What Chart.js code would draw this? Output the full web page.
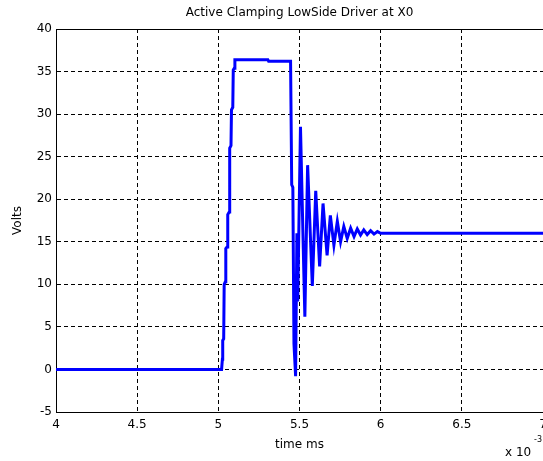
<!DOCTYPE html>
<html>
<head>
<meta charset="utf-8">
<script src="https://cdn.jsdelivr.net/npm/chart.js@4/dist/chart.umd.min.js"></script>
<style>
  html, body { margin: 0; padding: 0; background: #fff; }
  #wrap { width: 543px; height: 461px; overflow: hidden; position: relative; }
  canvas { display: block; }
</style>
</head>
<body>
<div id="wrap"><canvas id="clampChart" width="560" height="461"></canvas></div>
<script>
// Time axis in units of 1e-3 (matches the "x 10^-3" multiplier)
const timeE3 = [
    4.000, 5.020, 5.025, 5.027, 5.033, 5.036, 5.043, 5.046, 5.054, 5.058,
    5.067, 5.070, 5.078, 5.081, 5.089, 5.092, 5.098, 5.102, 5.305, 5.310,
    5.445, 5.452, 5.459, 5.466, 5.476, 5.484, 5.489, 5.506, 5.533, 5.550,
    5.579, 5.600, 5.624, 5.645, 5.670, 5.690, 5.712, 5.733, 5.753, 5.773,
    5.794, 5.815, 5.836, 5.856, 5.876, 5.896, 5.917, 5.938, 5.959, 5.980,
    6.000, 7.000
];
// Drain voltage at X0
const volts = [
    0, 0, 1.2, 3.4, 3.6, 10.0, 10.3, 14.2, 14.4, 18.2,
    18.5, 26.0, 26.3, 30.5, 30.8, 35.2, 35.4, 36.4, 36.4, 36.2,
    36.2, 21.7, 21.4, 3.0, -0.8, 16.0, 8.0, 28.5, 6.2, 24.0,
    9.8, 21.0, 12.1, 19.5, 13.4, 18.1, 14.6, 17.4, 15.0, 16.8,
    15.4, 16.6, 15.6, 16.5, 15.8, 16.4, 15.85, 16.3, 15.9, 16.2,
    16.0, 16.0
];

const xTickLabels = ['4', '4.5', '5', '5.5', '6', '6.5', '7'];
const yTickLabels = ['-5', '0', '5', '10', '15', '20', '25', '30', '35', '40'];
const chartTitle = 'Active Clamping LowSide Driver at X0';

const FONT = "'DejaVu Sans', sans-serif";
Chart.defaults.font.family = FONT;
Chart.defaults.font.size = 12;
Chart.defaults.color = '#000';

// Solid top edge of the plot box, title centred over the axes
const frame = {
    id: 'frame',
    beforeDatasetsDraw(chart) {
        const { ctx, chartArea: a } = chart;
        ctx.save();
        ctx.strokeStyle = '#000';
        ctx.lineWidth = 1;
        ctx.beginPath();
        ctx.moveTo(a.left, Math.round(a.top) + 0.5);
        ctx.lineTo(a.right, Math.round(a.top) + 0.5);
        ctx.stroke();

        ctx.fillStyle = '#000';
        ctx.font = '12px ' + FONT;
        ctx.textAlign = 'center';
        ctx.textBaseline = 'middle';
        ctx.fillText(chartTitle, (a.left + a.right) / 2, 13);
        ctx.restore();
    }
};

// "x 10^-3" multiplier under the right end of the time axis
const exponent = {
    id: 'exponent',
    afterDraw(chart) {
        const ctx = chart.ctx;
        ctx.save();
        ctx.fillStyle = '#000';
        ctx.textBaseline = 'middle';
        ctx.textAlign = 'left';
        ctx.font = '12px ' + FONT;
        ctx.fillText('x 10', 505, 453);
        ctx.font = '8px ' + FONT;
        ctx.fillText('-3', 534, 440);
        ctx.restore();
    }
};

const gridDash = [4, 3];

new Chart(document.getElementById('clampChart'), {
    type: 'line',
    data: {
        datasets: [{
            data: timeE3.map((t, i) => ({ x: t, y: volts[i] })),
            borderColor: '#0000ff',
            borderWidth: 3,
            pointRadius: 0,
            tension: 0,
            fill: false
        }]
    },
    options: {
        responsive: false,
        animation: false,
        layout: { padding: { left: 0, right: 17, top: 29, bottom: 0 } },
        plugins: {
            legend: { display: false },
            tooltip: { enabled: false },
            title: { display: false }
        },
        scales: {
            x: {
                type: 'linear',
                min: 4,
                max: 7,
                afterFit: s => { s.height = 49; },
                ticks: {
                    stepSize: 0.5,
                    padding: 6,
                    maxRotation: 0,
                    autoSkip: false,
                    callback: (v, i) => xTickLabels[i]
                },
                grid: { color: '#000', lineWidth: 1, drawTicks: false },
                border: { display: true, color: '#000', width: 1, dash: gridDash },
                title: { display: true, text: 'time ms', padding: { top: 0, bottom: 9 } }
            },
            y: {
                type: 'linear',
                min: -5,
                max: 40,
                afterFit: s => { s.width = 56; },
                ticks: {
                    stepSize: 5,
                    padding: 4,
                    autoSkip: false,
                    callback: (v, i) => yTickLabels[i]
                },
                grid: { color: '#000', lineWidth: 1, drawTicks: false },
                border: { display: true, color: '#000', width: 1, dash: gridDash },
                title: { display: true, text: 'Volts', padding: { top: 11, bottom: 0 } }
            }
        }
    },
    plugins: [frame, exponent]
});
</script>
</body>
</html>
